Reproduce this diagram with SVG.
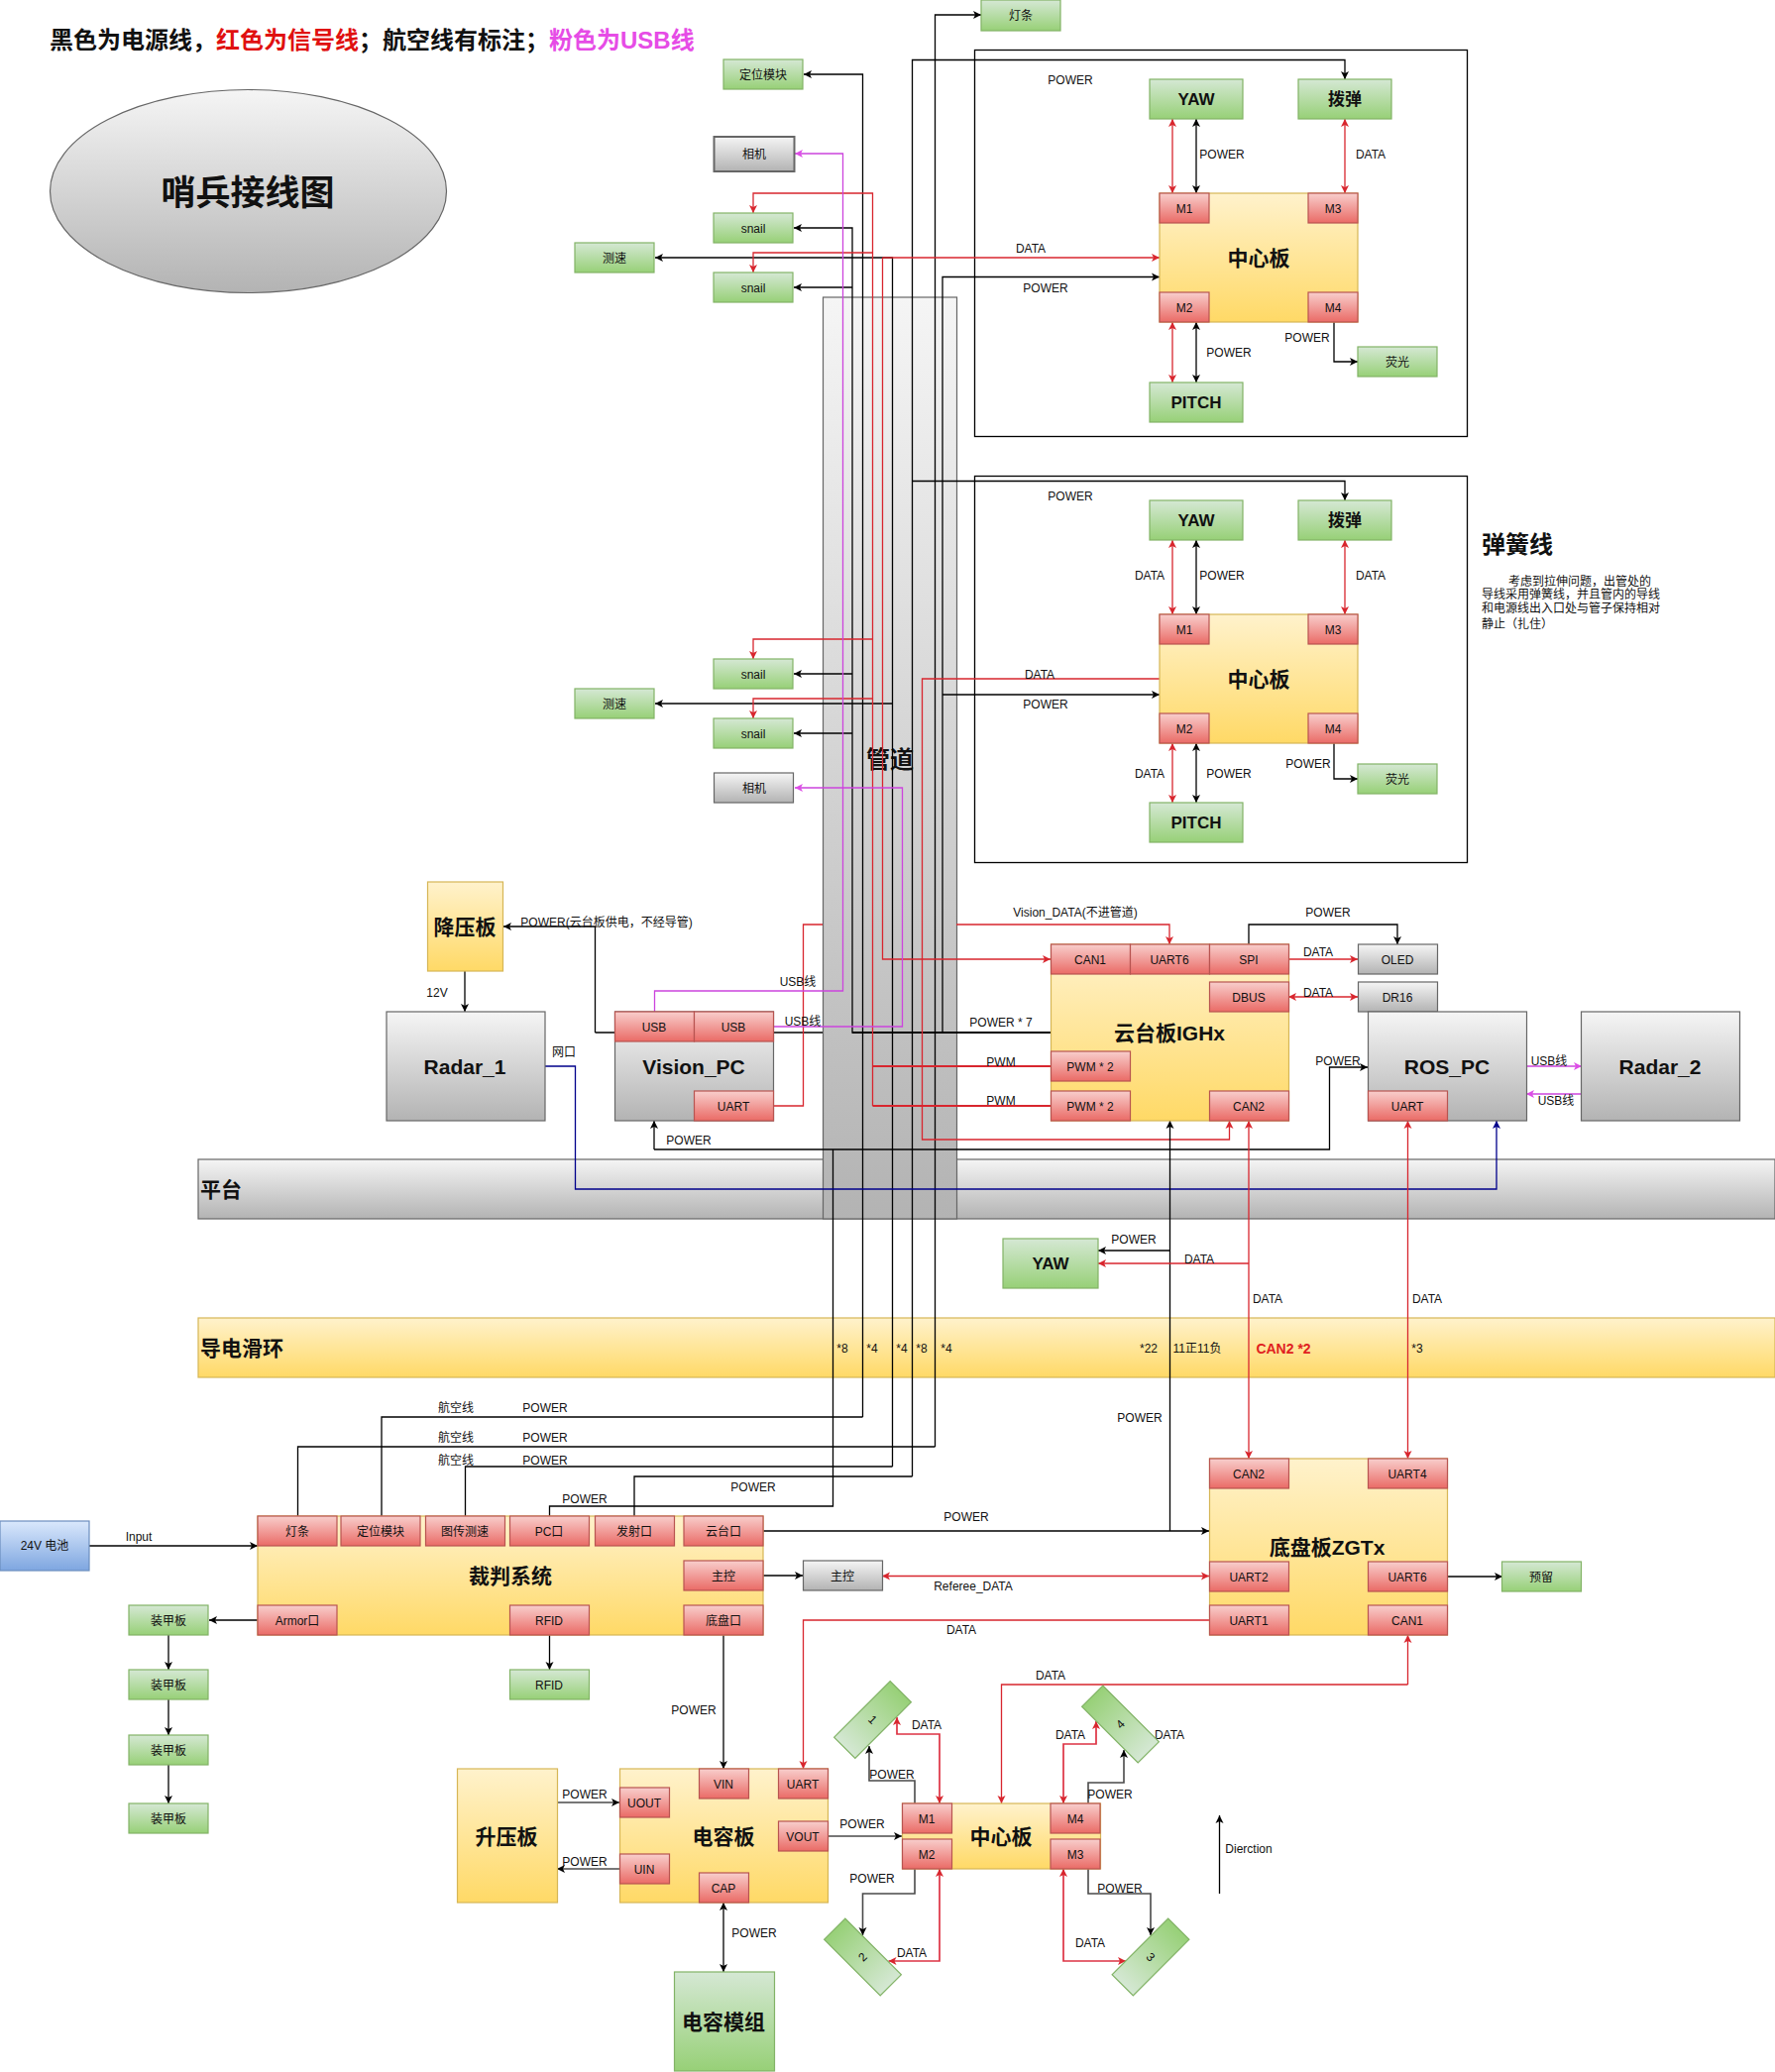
<svg xmlns="http://www.w3.org/2000/svg" width="1791" height="2091" viewBox="0 0 1791 2091">
<style>
text{font-family:"Liberation Sans","Noto Sans CJK SC",sans-serif;text-anchor:middle;dominant-baseline:central;fill:#111;font-size:12px;transform:translateY(1px)}
.b16{font-size:17px;font-weight:bold}.b20{font-size:21px;font-weight:bold}.b22{font-size:24px;font-weight:bold}.l{text-anchor:start}
.g{fill:url(#gg);stroke:#82b366;stroke-width:1.2}.r{fill:url(#gr);stroke:#b85450;stroke-width:1.2}.y{fill:url(#gy);stroke:#d6b656;stroke-width:1.2}.k{fill:url(#gk);stroke:#666;stroke-width:1.2}
.c{fill:none;stroke-width:1.3;stroke-linejoin:miter}
.bk{stroke:#000;marker-end:url(#ab)}.n{stroke:#000}.rd{stroke:#d8262e;marker-end:url(#ar)}.rn{stroke:#d8262e}.pk{stroke:#cc44dd;marker-end:url(#ap)}.pn{stroke:#cc44dd}.bl{stroke:#00008b;marker-end:url(#au)}.bn{stroke:#00008b}
.rr{stroke:#d8262e;marker-start:url(#ars);marker-end:url(#ar)}.bb{stroke:#000;marker-start:url(#abs);marker-end:url(#ab)}
.gy{stroke:#4a4a4a;stroke-width:1.6}.w{stroke:#dd3344;stroke-width:1.7}
.wh{fill:url(#gw1);stroke:#82b366;stroke-width:1.2}
</style>
<defs>
<linearGradient id="gg" x1="0" y1="0" x2="0" y2="1"><stop offset="0" stop-color="#d5e8d4"/><stop offset="1" stop-color="#97d077"/></linearGradient>
<linearGradient id="gr" x1="0" y1="0" x2="0" y2="1"><stop offset="0" stop-color="#f8cecc"/><stop offset="1" stop-color="#ea6b66"/></linearGradient>
<linearGradient id="gy" x1="0" y1="0" x2="0" y2="1"><stop offset="0" stop-color="#fff2cc"/><stop offset="1" stop-color="#ffd966"/></linearGradient>
<linearGradient id="gk" x1="0" y1="0" x2="0" y2="1"><stop offset="0" stop-color="#f5f5f5"/><stop offset="1" stop-color="#b3b3b3"/></linearGradient>
<linearGradient id="gw1" x1="0" y1="1" x2="0" y2="0"><stop offset="0" stop-color="#d5e8d4"/><stop offset="1" stop-color="#97d077"/></linearGradient>
<linearGradient id="gu" x1="0" y1="0" x2="0" y2="1"><stop offset="0" stop-color="#dae8fc"/><stop offset="1" stop-color="#7ea6e0"/></linearGradient>
<marker id="ab" markerUnits="userSpaceOnUse" markerWidth="10" markerHeight="10" refX="9" refY="5" orient="auto"><path d="M1,1L9,5L1,9L3,5Z" fill="#000"/></marker>
<marker id="abs" markerUnits="userSpaceOnUse" markerWidth="10" markerHeight="10" refX="1" refY="5" orient="auto"><path d="M9,1L1,5L9,9L7,5Z" fill="#000"/></marker>
<marker id="ar" markerUnits="userSpaceOnUse" markerWidth="10" markerHeight="10" refX="9" refY="5" orient="auto"><path d="M1,1L9,5L1,9L3,5Z" fill="#d8262e"/></marker>
<marker id="ars" markerUnits="userSpaceOnUse" markerWidth="10" markerHeight="10" refX="1" refY="5" orient="auto"><path d="M9,1L1,5L9,9L7,5Z" fill="#d8262e"/></marker>
<marker id="ap" markerUnits="userSpaceOnUse" markerWidth="10" markerHeight="10" refX="9" refY="5" orient="auto"><path d="M1,1L9,5L1,9L3,5Z" fill="#dd4de6"/></marker>
<marker id="au" markerUnits="userSpaceOnUse" markerWidth="10" markerHeight="10" refX="9" refY="5" orient="auto"><path d="M1,1L9,5L1,9L3,5Z" fill="#00008b"/></marker>
</defs>
<rect width="1791" height="2091" fill="#fff"/>

<g id="legend">
<text class="l" x="50" y="39" style="font-size:24px;font-weight:bold"><tspan>黑色为电源线，</tspan><tspan fill="#e01010">红色为信号线</tspan><tspan>；航空线有标注；</tspan><tspan fill="#e64ce6">粉色为USB线</tspan></text>
</g>
<g id="title"><ellipse cx="250.5" cy="193" rx="200" ry="102.5" fill="url(#gk)" stroke="#666" stroke-width="1.2"/><text x="250" y="193" style="font-size:35px;font-weight:bold">哨兵接线图</text></g>

<g id="gimbal-frame-1"><rect x="983.5" y="50.5" width="497" height="390" fill="none" stroke="#000" stroke-width="1.3"/></g>
<g id="gimbal-frame-2"><rect x="983.5" y="480.5" width="497" height="390" fill="none" stroke="#000" stroke-width="1.3"/></g>
<g id="platform"><rect class="k" x="200" y="1170" width="1591" height="60"/><text class="b20 l" x="202" y="1199">平台</text></g>
<g id="slipring"><rect class="y" x="200" y="1330" width="1591" height="60"/><text class="b20 l" x="202" y="1359">导电滑环</text>
<text x="850" y="1360">*8</text><text x="880" y="1360">*4</text><text x="910" y="1360">*4</text><text x="930" y="1360">*8</text><text x="955" y="1360">*4</text><text x="1159" y="1360">*22</text><text x="1208" y="1360">11正11负</text><text x="1295" y="1360" style="font-size:14px;font-weight:bold;fill:#e02020">CAN2 *2</text><text x="1430" y="1360">*3</text></g>
<g id="conduit"><rect class="k" x="830.5" y="300" width="135" height="930"/><text class="b22" x="898" y="765">管道</text></g>

<g id="connectors">
<path class="c bk" d="M1060,1042H860V230H801"/>
<path class="c bk" d="M860,290H801"/><path class="c bk" d="M860,680H801"/><path class="c bk" d="M860,740H801"/>
<path class="c n" d="M860,1042H1060" style="stroke-width:2.2"/>
<path class="c bk" d="M870.5,1430V75H811"/>
<path class="c n" d="M385,1530V1430H870.5"/>
<path class="c bk" d="M900.5,1480V260H661"/><path class="c bk" d="M900.5,710H661"/>
<path class="c n" d="M469.5,1530V1480H900.5"/>
<path class="c bk" d="M920.5,1490V60.5H1357V80"/><path class="c bk" d="M920.5,485.5H1357V505"/>
<path class="c n" d="M640,1530V1490H920.5"/>
<path class="c bk" d="M943.5,1460V15H990"/>
<path class="c n" d="M300.5,1530V1460H943.5"/>
<path class="c n" d="M554.5,1530V1520H840.5V1160"/>
<path class="c bk" d="M951,1042V279.5H1170"/><path class="c bk" d="M951,701H1170"/>
<path class="c bk" d="M660,1160V1131"/><path class="c bk" d="M660,1160H1341.5V1077H1380"/>
<path class="c bk" d="M600.5,1042V935H508"/><path class="c n" d="M600.5,1042H830"/>
<path class="c rd" d="M880.5,1116V195H760V215"/><path class="c rd" d="M880.5,255H760V275"/><path class="c rd" d="M880.5,645H760V665"/><path class="c rd" d="M880.5,705H760V725"/>
<path class="c rn" d="M880.5,1076H1060" style="stroke-width:2"/><path class="c rn" d="M880.5,1116H1060" style="stroke-width:2"/>
<path class="c rd" d="M890.5,260H1170"/><path class="c rd" d="M890.5,260V968H1060"/>
<path class="c rd" d="M1170,685H930.5V1150H1240.5V1131"/>
<path class="c rn" d="M780,1116H810.5V933H830"/><path class="c rd" d="M965,933H1180V953"/>
<path class="c pk" d="M660.5,1021V1000H850.5V155H802"/>
<path class="c pk" d="M780,1036H910.5V795H802"/>
<path class="c pk" d="M1540,1076H1596"/><path class="c pk" d="M1596,1104H1540"/>
<path class="c rr" d="M1183,195V120"/><path class="c bb" d="M1207,195V120"/><path class="c rr" d="M1357,195V120"/>
<path class="c rr" d="M1183,386V325"/><path class="c bb" d="M1207,386V325"/>
<path class="c bk" d="M1346,325V365H1370"/>
<path class="c rr" d="M1183,620V545"/><path class="c bb" d="M1207,620V545"/><path class="c rr" d="M1357,620V545"/>
<path class="c rr" d="M1183,810V750"/><path class="c bb" d="M1207,810V750"/>
<path class="c bk" d="M1346,750V786H1370"/>
<path class="c bk" d="M1260,953V933H1410V953"/>
<path class="c rd" d="M1300,968H1370"/><path class="c rr" d="M1370,1006H1300" style="stroke-width:1.6"/>
<path class="c bl" d="M550,1076H580.5V1200H1510V1131"/>
<path class="c rr" d="M1260,1472V1131"/><path class="c rr" d="M1420.5,1472V1131"/>
<path class="c bk" d="M1180.5,1545V1131"/>
<path class="c bk" d="M1180.5,1262H1108"/><path class="c rd" d="M1260,1275H1108"/>
<path class="c bk" d="M469,980V1021"/>
<path class="c bk" d="M90,1560H260"/><path class="c bk" d="M770,1545H1220"/><path class="c bk" d="M770,1590H810"/>
<path class="c rr" d="M1220,1590.5H890"/><path class="c bk" d="M1460,1591H1516"/>
<path class="c rd" d="M1220,1635H810.5V1785"/><path class="c bk" d="M260,1635H211"/>
<path class="c bk" d="M554.5,1650V1685"/><path class="c bk" d="M730,1650V1785"/>
<path class="c bk" d="M170,1650V1685"/><path class="c bk" d="M170,1715V1751"/><path class="c bk" d="M170,1781V1820"/>
<path class="c bk gy" d="M562,1819H625"/><path class="c bk gy" d="M625,1886H562"/><path class="c bk gy" d="M835,1853H910"/><path class="c bb" d="M730,1990V1920"/>
<path class="c rd" d="M1420.5,1700V1650"/><path class="c rd" d="M1420.5,1700H1010.5V1820"/>
<path class="c bk gy" d="M923,1820V1797H877V1762"/><path class="c rr w" d="M948,1820V1750H905V1733"/>
<path class="c rr w" d="M1073,1820V1760H1106V1737"/><path class="c bk gy" d="M1098,1820V1799H1134V1766"/>
<path class="c bk gy" d="M923,1886V1911H870.5V1953"/><path class="c rr w" d="M948,1886V1979H896.5"/>
<path class="c rr w" d="M1073,1886V1979H1136"/><path class="c bk gy" d="M1098,1886V1911H1161V1953"/>
<path class="c bk" d="M1230.5,1911V1832"/>
</g>

<g id="edge-labels">
<text x="1080" y="80">POWER</text><text x="1233" y="155">POWER</text><text x="1383" y="155">DATA</text><text x="1040" y="250">DATA</text><text x="1055" y="290">POWER</text><text x="1240" y="355">POWER</text><text x="1319" y="340">POWER</text>
<text x="1080" y="500">POWER</text><text x="1160" y="580">DATA</text><text x="1233" y="580">POWER</text><text x="1383" y="580">DATA</text><text x="1049" y="680">DATA</text><text x="1055" y="710">POWER</text><text x="1160" y="780">DATA</text><text x="1240" y="780">POWER</text><text x="1320" y="770">POWER</text>
<text x="612" y="930">POWER(云台板供电，不经导管)</text><text x="441" y="1001">12V</text><text x="569" y="1061">网口</text><text x="805" y="990">USB线</text><text x="810" y="1030">USB线</text><text x="695" y="1150">POWER</text>
<text x="1010" y="1031">POWER * 7</text><text x="1010" y="1071">PWM</text><text x="1010" y="1110">PWM</text><text x="1085" y="920">Vision_DATA(不进管道)</text><text x="1340" y="920">POWER</text><text x="1330" y="960">DATA</text><text x="1330" y="1001">DATA</text><text x="1350" y="1070">POWER</text><text x="1563" y="1070">USB线</text><text x="1570" y="1110">USB线</text>
<text x="1144" y="1250">POWER</text><text x="1210" y="1270">DATA</text><text x="1279" y="1310">DATA</text><text x="1440" y="1310">DATA</text><text x="1150" y="1430">POWER</text>
<text x="460" y="1420">航空线</text><text x="550" y="1420">POWER</text><text x="460" y="1450">航空线</text><text x="550" y="1450">POWER</text><text x="460" y="1473">航空线</text><text x="550" y="1473">POWER</text><text x="590" y="1512">POWER</text><text x="760" y="1500">POWER</text><text x="975" y="1530">POWER</text>
<text x="140" y="1550">Input</text><text x="982" y="1600">Referee_DATA</text><text x="970" y="1644">DATA</text><text x="1060" y="1690">DATA</text>
<text x="700" y="1725">POWER</text><text x="761" y="1950">POWER</text><text x="590" y="1810">POWER</text><text x="590" y="1878">POWER</text><text x="870" y="1840">POWER</text><text x="900" y="1790">POWER</text><text x="880" y="1895">POWER</text><text x="1120" y="1810">POWER</text><text x="1130" y="1905">POWER</text>
<text x="935" y="1740">DATA</text><text x="1080" y="1750">DATA</text><text x="1180" y="1750">DATA</text><text x="920" y="1970">DATA</text><text x="1100" y="1960">DATA</text><text x="1260" y="1865">Dierction</text>
</g>

<g id="note"><text class="b22 l" x="1495" y="548">弹簧线</text>
<text class="l" x="1522" y="586">考虑到拉伸问题，出管处的</text><text class="l" x="1495" y="599">导线采用弹簧线，并且管内的导线</text><text class="l" x="1495" y="613">和电源线出入口处与管子保持相对</text><text class="l" x="1495" y="629">静止（扎住）</text></g>

<g id="n-lightbar-top"><rect class="g" x="990" y="0" width="80" height="31"/><text x="1030" y="15">灯条</text></g>
<g id="n-locator"><rect class="g" x="730" y="60" width="80" height="30"/><text x="770" y="75">定位模块</text></g>
<g id="n-cam1"><rect class="k" x="720.5" y="138" width="81" height="35" style="stroke-width:2"/><text x="761" y="155">相机</text></g>
<g id="n-snail1"><rect class="g" x="720" y="215" width="80" height="30"/><text x="760" y="230">snail</text></g>
<g id="n-speed1"><rect class="g" x="580" y="245" width="80" height="30"/><text x="620" y="260">测速</text></g>
<g id="n-snail2"><rect class="g" x="720" y="275" width="80" height="30"/><text x="760" y="290">snail</text></g>
<g id="n-snail3"><rect class="g" x="720" y="665" width="80" height="30"/><text x="760" y="680">snail</text></g>
<g id="n-speed2"><rect class="g" x="580" y="695" width="80" height="30"/><text x="620" y="710">测速</text></g>
<g id="n-snail4"><rect class="g" x="720" y="725" width="80" height="30"/><text x="760" y="740">snail</text></g>
<g id="n-cam2"><rect class="k" x="720.5" y="780" width="80" height="30"/><text x="761" y="795">相机</text></g>

<g id="n-yaw1"><rect class="g" x="1160" y="80" width="94" height="40"/><text class="b16" x="1207" y="99">YAW</text></g>
<g id="n-bullet1"><rect class="g" x="1310" y="80" width="94" height="40"/><text class="b16" x="1357" y="99">拨弹</text></g>
<g id="n-center1"><rect class="y" x="1170" y="195" width="200" height="130"/><text class="b20" x="1270" y="259">中心板</text>
<rect class="r" x="1170" y="195" width="50" height="30"/><text x="1195" y="210">M1</text><rect class="r" x="1320" y="195" width="50" height="30"/><text x="1345" y="210">M3</text><rect class="r" x="1170" y="295" width="50" height="30"/><text x="1195" y="310">M2</text><rect class="r" x="1320" y="295" width="50" height="30"/><text x="1345" y="310">M4</text></g>
<g id="n-pitch1"><rect class="g" x="1160" y="386" width="94" height="40"/><text class="b16" x="1207" y="405">PITCH</text></g>
<g id="n-fluor1"><rect class="g" x="1370" y="350" width="80" height="30"/><text x="1410" y="365">荧光</text></g>

<g id="n-yaw2"><rect class="g" x="1160" y="505" width="94" height="40"/><text class="b16" x="1207" y="524">YAW</text></g>
<g id="n-bullet2"><rect class="g" x="1310" y="505" width="94" height="40"/><text class="b16" x="1357" y="524">拨弹</text></g>
<g id="n-center2"><rect class="y" x="1170" y="620" width="200" height="130"/><text class="b20" x="1270" y="684">中心板</text>
<rect class="r" x="1170" y="620" width="50" height="30"/><text x="1195" y="635">M1</text><rect class="r" x="1320" y="620" width="50" height="30"/><text x="1345" y="635">M3</text><rect class="r" x="1170" y="720" width="50" height="30"/><text x="1195" y="735">M2</text><rect class="r" x="1320" y="720" width="50" height="30"/><text x="1345" y="735">M4</text></g>
<g id="n-pitch2"><rect class="g" x="1160" y="810" width="94" height="40"/><text class="b16" x="1207" y="829">PITCH</text></g>
<g id="n-fluor2"><rect class="g" x="1370" y="771" width="80" height="30"/><text x="1410" y="786">荧光</text></g>

<g id="n-buck"><rect class="y" x="431.5" y="890" width="76" height="90"/><text class="b20" x="469" y="934">降压板</text></g>
<g id="n-radar1"><rect class="k" x="390" y="1021" width="160" height="110"/><text class="b20" x="469" y="1075">Radar_1</text></g>
<g id="n-visionpc"><rect class="k" x="620.5" y="1021" width="160" height="110"/><text class="b20" x="700" y="1075">Vision_PC</text>
<rect class="r" x="620.5" y="1021" width="80" height="30"/><text x="660" y="1036">USB</text><rect class="r" x="700.5" y="1021" width="80" height="30"/><text x="740" y="1036">USB</text><rect class="r" x="700.5" y="1101" width="80" height="30"/><text x="740" y="1116">UART</text></g>
<g id="n-gimbalboard"><rect class="y" x="1060.5" y="953" width="240" height="178"/><text class="b20" x="1180" y="1041">云台板IGHx</text>
<rect class="r" x="1060.5" y="953" width="80" height="30"/><text x="1100" y="968">CAN1</text><rect class="r" x="1140.5" y="953" width="80" height="30"/><text x="1180" y="968">UART6</text><rect class="r" x="1220.5" y="953" width="80" height="30"/><text x="1260" y="968">SPI</text>
<rect class="r" x="1220.5" y="991" width="80" height="30"/><text x="1260" y="1006">DBUS</text><rect class="r" x="1060.5" y="1061" width="80" height="30"/><text x="1100" y="1076">PWM * 2</text><rect class="r" x="1060.5" y="1101" width="80" height="30"/><text x="1100" y="1116">PWM * 2</text><rect class="r" x="1220.5" y="1101" width="80" height="30"/><text x="1260" y="1116">CAN2</text></g>
<g id="n-oled"><rect class="k" x="1370.5" y="953" width="80" height="30"/><text x="1410" y="968">OLED</text></g>
<g id="n-dr16"><rect class="k" x="1370.5" y="991" width="80" height="30"/><text x="1410" y="1006">DR16</text></g>
<g id="n-rospc"><rect class="k" x="1380.5" y="1021" width="160" height="110"/><text class="b20" x="1460" y="1075">ROS_PC</text><rect class="r" x="1380.5" y="1101" width="80" height="30"/><text x="1420" y="1116">UART</text></g>
<g id="n-radar2"><rect class="k" x="1595.5" y="1021" width="160" height="110"/><text class="b20" x="1675" y="1075">Radar_2</text></g>
<g id="n-yaw3"><rect class="g" x="1012" y="1250" width="96" height="50"/><text class="b16" x="1060" y="1274">YAW</text></g>

<g id="n-battery"><rect x="0" y="1535" width="90" height="50" fill="url(#gu)" stroke="#6c8ebf" stroke-width="1.2"/><text x="45" y="1559">24V 电池</text></g>
<g id="n-referee"><rect class="y" x="260" y="1530" width="510" height="120"/><text class="b20" x="515" y="1589">裁判系统</text>
<rect class="r" x="260" y="1530" width="80" height="30"/><text x="300" y="1545">灯条</text><rect class="r" x="344" y="1530" width="80" height="30"/><text x="384" y="1545">定位模块</text><rect class="r" x="429.5" y="1530" width="80" height="30"/><text x="469" y="1545">图传测速</text><rect class="r" x="514.5" y="1530" width="80" height="30"/><text x="554" y="1545">PC口</text><rect class="r" x="600.5" y="1530" width="80" height="30"/><text x="640" y="1545">发射口</text><rect class="r" x="690" y="1530" width="80" height="30"/><text x="730" y="1545">云台口</text>
<rect class="r" x="690" y="1575" width="80" height="30"/><text x="730" y="1590">主控</text><rect class="r" x="260" y="1620" width="80" height="30"/><text x="300" y="1635">Armor口</text><rect class="r" x="514.5" y="1620" width="80" height="30"/><text x="554" y="1635">RFID</text><rect class="r" x="690" y="1620" width="80" height="30"/><text x="730" y="1635">底盘口</text></g>
<g id="n-master"><rect class="k" x="810.5" y="1575" width="80" height="30"/><text x="850" y="1590">主控</text></g>
<g id="n-armor1"><rect class="g" x="130" y="1620" width="80" height="30"/><text x="170" y="1635">装甲板</text></g>
<g id="n-armor2"><rect class="g" x="130" y="1685" width="80" height="30"/><text x="170" y="1700">装甲板</text></g>
<g id="n-armor3"><rect class="g" x="130" y="1751" width="80" height="30"/><text x="170" y="1766">装甲板</text></g>
<g id="n-armor4"><rect class="g" x="130" y="1820" width="80" height="30"/><text x="170" y="1835">装甲板</text></g>
<g id="n-rfid"><rect class="g" x="514.5" y="1685" width="80" height="30"/><text x="554" y="1700">RFID</text></g>
<g id="n-chassisboard"><rect class="y" x="1220.5" y="1472" width="240" height="178"/><text class="b20" x="1339" y="1560">底盘板ZGTx</text>
<rect class="r" x="1220.5" y="1472" width="80" height="30"/><text x="1260" y="1487">CAN2</text><rect class="r" x="1380.5" y="1472" width="80" height="30"/><text x="1420" y="1487">UART4</text><rect class="r" x="1220.5" y="1576" width="80" height="30"/><text x="1260" y="1591">UART2</text><rect class="r" x="1380.5" y="1576" width="80" height="30"/><text x="1420" y="1591">UART6</text><rect class="r" x="1220.5" y="1620" width="80" height="30"/><text x="1260" y="1635">UART1</text><rect class="r" x="1380.5" y="1620" width="80" height="30"/><text x="1420" y="1635">CAN1</text></g>
<g id="n-reserve"><rect class="g" x="1515.5" y="1576" width="80" height="30"/><text x="1555" y="1591">预留</text></g>
<g id="n-boost"><rect class="y" x="461.5" y="1785" width="101" height="135"/><text class="b20" x="511" y="1852">升压板</text></g>
<g id="n-capboard"><rect class="y" x="625.5" y="1785" width="210" height="135"/><text class="b20" x="730" y="1852">电容板</text>
<rect class="r" x="625.5" y="1804" width="50" height="30"/><text x="650" y="1819">UOUT</text><rect class="r" x="625.5" y="1871" width="50" height="30"/><text x="650" y="1886">UIN</text><rect class="r" x="705.5" y="1785" width="50" height="30"/><text x="730" y="1800">VIN</text><rect class="r" x="785.5" y="1785" width="50" height="30"/><text x="810" y="1800">UART</text><rect class="r" x="785.5" y="1838" width="50" height="30"/><text x="810" y="1853">VOUT</text><rect class="r" x="705.5" y="1890" width="50" height="30"/><text x="730" y="1905">CAP</text></g>
<g id="n-capmodule"><rect class="g" x="680.5" y="1990" width="101" height="100"/><text class="b20" x="730" y="2039">电容模组</text></g>
<g id="n-center3"><rect class="y" x="910.5" y="1820" width="200" height="66"/><text class="b20" x="1010" y="1852">中心板</text>
<rect class="r" x="910.5" y="1820" width="50" height="30"/><text x="935" y="1835">M1</text><rect class="r" x="910.5" y="1856" width="50" height="30"/><text x="935" y="1871">M2</text><rect class="r" x="1060" y="1820" width="50" height="30"/><text x="1085" y="1835">M4</text><rect class="r" x="1060" y="1856" width="50" height="30"/><text x="1085" y="1871">M3</text></g>
<g id="n-wheel1" transform="rotate(45 880.5 1735.5)"><rect class="wh" x="865.5" y="1695.5" width="30" height="80"/><text x="880.5" y="1734.5">1</text></g>
<g id="n-wheel4" transform="rotate(-45 1130.5 1740)"><rect class="wh" x="1115.5" y="1700" width="30" height="80"/><text x="1130.5" y="1739">4</text></g>
<g id="n-wheel2" transform="rotate(-45 870.5 1975)"><rect class="wh" x="855.5" y="1935" width="30" height="80"/><text x="870.5" y="1974">2</text></g>
<g id="n-wheel3" transform="rotate(45 1161 1975)"><rect class="wh" x="1146" y="1935" width="30" height="80"/><text x="1161" y="1974">3</text></g>
</svg>
